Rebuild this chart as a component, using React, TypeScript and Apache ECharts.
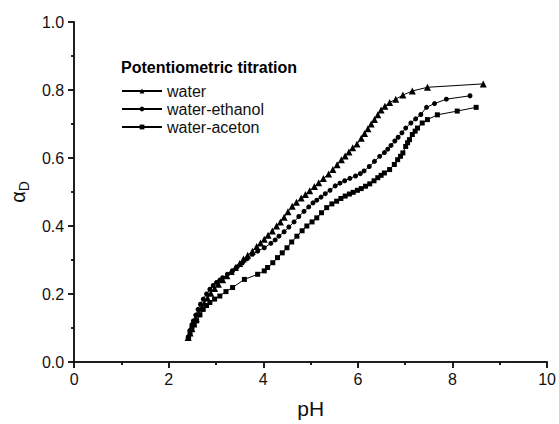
import React, { useEffect, useRef } from "react";
import * as echarts from "echarts";

const waterPH = [2.41, 2.45, 2.49, 2.53, 2.58, 2.63, 2.69, 2.75, 2.82, 2.89, 2.97, 3.05, 3.14, 3.23, 3.32, 3.41, 3.5, 3.58, 3.67, 3.77, 3.86, 3.94, 4.02, 4.1, 4.19, 4.28, 4.36, 4.44, 4.52, 4.61, 4.7, 4.8, 4.89, 4.98, 5.08, 5.17, 5.27, 5.38, 5.47, 5.56, 5.65, 5.73, 5.81, 5.89, 5.98, 6.07, 6.14, 6.21, 6.28, 6.35, 6.42, 6.49, 6.57, 6.67, 6.8, 6.95, 7.15, 7.47, 8.65];
const waterAlpha = [0.072, 0.085, 0.098, 0.112, 0.127, 0.142, 0.158, 0.173, 0.188, 0.202, 0.216, 0.229, 0.242, 0.254, 0.266, 0.278, 0.29, 0.303, 0.314, 0.326, 0.34, 0.35, 0.361, 0.373, 0.385, 0.4, 0.412, 0.426, 0.442, 0.458, 0.47, 0.482, 0.493, 0.504, 0.516, 0.527, 0.54, 0.553, 0.566, 0.58, 0.595, 0.606, 0.618, 0.63, 0.641, 0.658, 0.672, 0.686, 0.7, 0.713, 0.727, 0.741, 0.752, 0.763, 0.773, 0.785, 0.797, 0.808, 0.818];

const ethanolPH = [2.41, 2.45, 2.49, 2.52, 2.57, 2.62, 2.67, 2.73, 2.8, 2.87, 2.94, 3.01, 3.08, 3.14, 3.24, 3.35, 3.45, 3.56, 3.66, 3.77, 3.88, 4.02, 4.16, 4.25, 4.33, 4.44, 4.54, 4.65, 4.75, 4.86, 4.96, 5.05, 5.13, 5.22, 5.31, 5.41, 5.52, 5.62, 5.72, 5.83, 5.95, 6.05, 6.13, 6.24, 6.35, 6.46, 6.56, 6.63, 6.7, 6.78, 6.85, 6.93, 7.01, 7.12, 7.22, 7.33, 7.45, 7.62, 7.87, 8.37];
const ethanolAlpha = [0.072, 0.093, 0.11, 0.121, 0.138, 0.155, 0.17, 0.185, 0.2, 0.214, 0.225, 0.234, 0.241, 0.248, 0.258, 0.268, 0.28, 0.292, 0.304, 0.317, 0.326, 0.336, 0.349, 0.359, 0.37, 0.383, 0.397, 0.412, 0.428, 0.443, 0.456, 0.468, 0.476, 0.485, 0.495, 0.505, 0.518, 0.526, 0.533, 0.54, 0.547, 0.554, 0.562, 0.575, 0.59, 0.605, 0.616, 0.626, 0.637, 0.65, 0.661, 0.674, 0.688, 0.703, 0.715, 0.728, 0.749, 0.76, 0.773, 0.783];

const acetonPH = [2.42, 2.45, 2.49, 2.54, 2.59, 2.66, 2.73, 2.8, 2.87, 2.97, 3.08, 3.21, 3.35, 3.6, 3.88, 4.02, 4.09, 4.2, 4.3, 4.4, 4.5, 4.6, 4.71, 4.82, 4.92, 5.03, 5.13, 5.23, 5.34, 5.45, 5.55, 5.64, 5.73, 5.82, 5.9, 5.99, 6.07, 6.16, 6.25, 6.34, 6.42, 6.49, 6.56, 6.67, 6.77, 6.84, 6.9, 6.95, 7.01, 7.05, 7.09, 7.15, 7.21, 7.26, 7.36, 7.47, 7.68, 8.1, 8.5];
const acetonAlpha = [0.072, 0.087, 0.1, 0.111, 0.121, 0.139, 0.155, 0.166, 0.175, 0.185, 0.194, 0.207, 0.219, 0.243, 0.258, 0.268, 0.278, 0.292, 0.307, 0.321, 0.336, 0.353, 0.37, 0.386, 0.4, 0.412, 0.424, 0.439, 0.454, 0.465, 0.473, 0.481, 0.488, 0.494, 0.499, 0.505, 0.51, 0.517, 0.524, 0.533, 0.542, 0.549, 0.556, 0.566, 0.581, 0.595, 0.605, 0.615, 0.634, 0.645, 0.654, 0.669, 0.679, 0.688, 0.703, 0.713, 0.727, 0.738, 0.749];

const seriesNames = ["water", "water-ethanol", "water-aceton"];
const legendTitle = "Potentiometric titration";
const xName = "pH";

const FONT = "'Liberation Sans', Arial, sans-serif";

function pairs(xs: number[], ys: number[]) {
  return xs.map((x, i) => [x, ys[i]]);
}

export default function App() {
  const ref = useRef<HTMLDivElement>(null);
  useEffect(() => {
    if (!ref.current) return;
    const chart = echarts.init(ref.current, null, { renderer: "svg" });
    const axisLine = { show: true, lineStyle: { color: "#111", width: 1.5 } };
    const mkSeries = (name: string, data: number[][], symbol: string, size: number) => ({
      name,
      type: "line",
      data,
      symbol,
      symbolSize: size,
      showSymbol: true,
      lineStyle: { color: "#000", width: 1 },
      itemStyle: { color: "#000" },
      xAxisIndex: 0,
      yAxisIndex: 0,
    });
    chart.setOption({
      animation: false,
      backgroundColor: "#fff",
      grid: { left: 73, right: 7, top: 22, bottom: 61 },
      graphic: [
        {
          type: "text",
          left: 121,
          top: 59,
          style: { text: legendTitle, fontFamily: FONT, fontSize: 16, fontWeight: "bold", fill: "#000" },
        },
      ],
      legend: {
        orient: "vertical",
        left: 121,
        top: 83,
        padding: 0,
        itemWidth: 40,
        itemHeight: 6,
        itemGap: 2,
        data: seriesNames,
        textStyle: { fontFamily: FONT, fontSize: 16, color: "#111", lineHeight: 16 },
      },
      xAxis: [
        {
          type: "value",
          min: 0,
          max: 10,
          interval: 2,
          position: "bottom",
          name: xName,
          nameLocation: "middle",
          nameGap: 36,
          nameTextStyle: { fontFamily: FONT, fontSize: 21, color: "#111" },
          axisLine,
          axisTick: { show: true, inside: false, length: 6, lineStyle: { color: "#111", width: 1.5 } },
          minorTick: { show: true, splitNumber: 2, length: 3, lineStyle: { color: "#111", width: 1.5 } },
          axisLabel: { fontFamily: FONT, fontSize: 16, color: "#111", margin: 9 },
          splitLine: { show: false },
        },
        {
          type: "value",
          min: 0,
          max: 10,
          interval: 2,
          position: "top",
          axisLine,
          axisTick: { show: true, inside: true, length: 6, lineStyle: { color: "#111", width: 1.5 } },
          minorTick: { show: true, splitNumber: 2, length: 3, lineStyle: { color: "#111", width: 1.5 } },
          axisLabel: { show: false },
          splitLine: { show: false },
        },
      ],
      yAxis: [
        {
          type: "value",
          min: 0,
          max: 1,
          interval: 0.2,
          position: "left",
          name: "{a|α}{b|D}",
          nameLocation: "middle",
          nameRotate: 90,
          nameGap: 38,
          nameTextStyle: {
            fontFamily: FONT,
            color: "#111",
            rich: {
              a: { fontFamily: FONT, fontSize: 20, color: "#111" },
              b: { fontFamily: FONT, fontSize: 14, color: "#111", padding: [12, 0, 0, 0] },
            },
          },
          axisLine,
          axisTick: { show: true, inside: false, length: 6, lineStyle: { color: "#111", width: 1.5 } },
          minorTick: { show: true, splitNumber: 2, length: 3, lineStyle: { color: "#111", width: 1.5 } },
          axisLabel: { fontFamily: FONT, fontSize: 16, color: "#111", margin: 10, formatter: (v: number) => v.toFixed(1) },
          splitLine: { show: false },
        },
        {
          type: "value",
          min: 0,
          max: 1,
          interval: 0.2,
          position: "right",
          axisLine,
          axisTick: { show: true, inside: true, length: 6, lineStyle: { color: "#111", width: 1.5 } },
          minorTick: { show: true, splitNumber: 2, length: 3, lineStyle: { color: "#111", width: 1.5 } },
          axisLabel: { show: false },
          splitLine: { show: false },
        },
      ],
      series: [
        mkSeries(seriesNames[0], pairs(waterPH, waterAlpha), "triangle", 7),
        mkSeries(seriesNames[1], pairs(ethanolPH, ethanolAlpha), "circle", 5),
        mkSeries(seriesNames[2], pairs(acetonPH, acetonAlpha), "rect", 5),
      ],
    });
    return () => chart.dispose();
  }, []);
  return <div ref={ref} style={{ width: 559, height: 424, position: "absolute", left: 0, top: 0 }} />;
}
